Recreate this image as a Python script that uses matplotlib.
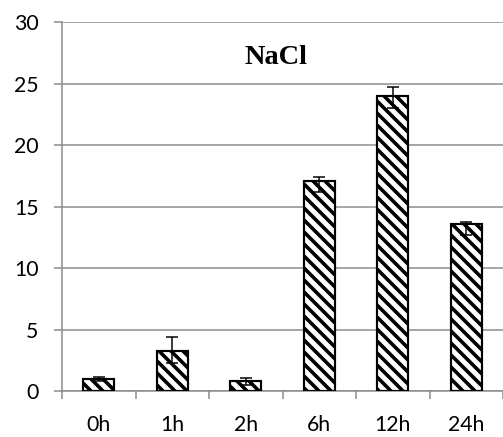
import matplotlib
matplotlib.use("Agg")
import matplotlib.pyplot as plt
from matplotlib.backend_bases import GraphicsContextBase
from matplotlib.path import Path
import numpy as np

categories = ["0h", "1h", "2h", "6h", "12h", "24h"]
values = [1.0, 3.3, 0.8, 17.1, 24.0, 13.6]
err_low = [0.15, 1.0, 0.25, 0.95, 0.95, 0.9]
err_high = [0.15, 1.15, 0.25, 0.3, 0.75, 0.15]
title = "NaCl"

# denser hatch lines (about 10 per hatch unit)
def _hatch_path(self, density=10.0):
    hatch = self.get_hatch()
    if hatch is None:
        return None
    return Path.hatch(hatch, 10.0)
GraphicsContextBase.get_hatch_path = _hatch_path

DPI = 60
plt.rcParams['hatch.linewidth'] = 4.3
plt.rcParams['hatch.color'] = 'black'

fig = plt.figure(figsize=(503 / DPI, 437 / DPI), dpi=DPI)
ax = fig.add_axes([62 / 503, 1 - 391.3 / 437, 441 / 503, 369.3 / 437])

x = np.arange(len(categories))
ax.bar(x, values, width=0.42, color='white', edgecolor='black', linewidth=2.6,
       hatch='\\', zorder=3)
ax.errorbar(x, values, yerr=[err_low, err_high], fmt='none', ecolor='black',
            elinewidth=1.8, capsize=7.2, capthick=1.8, zorder=4)

gray = '#8a8a8a'
ax.set_ylim(0, 30)
ax.set_xlim(-0.5, len(categories) - 0.5)
ax.set_yticks(np.arange(0, 31, 5))
ax.yaxis.grid(True, color=gray, linewidth=1.8, zorder=0)
ax.set_axisbelow(True)

ax.set_xticks(x)
ax.set_xticklabels(categories)
ax.set_xticks(np.arange(-0.5, len(categories)), minor=True)
ax.tick_params(axis='x', which='major', length=0, pad=29)
ax.tick_params(axis='x', which='minor', length=10, width=1.8, color=gray, direction='out')
ax.tick_params(axis='y', length=10, width=1.8, color=gray, direction='out', pad=18)

for lbl in ax.get_xticklabels() + ax.get_yticklabels():
    lbl.set_fontfamily('Lato')
    lbl.set_fontsize(25.5)
    lbl.set_color('black')

for s in ['top', 'right']:
    ax.spines[s].set_visible(False)
for s in ['left', 'bottom']:
    ax.spines[s].set_color(gray)
    ax.spines[s].set_linewidth(1.8)

ax.text(0.486, 0.886, title, transform=ax.transAxes, ha='center', va='baseline',
        fontfamily='Liberation Serif', fontweight='bold', fontsize=34)

fig.savefig('out.png', dpi=DPI)
